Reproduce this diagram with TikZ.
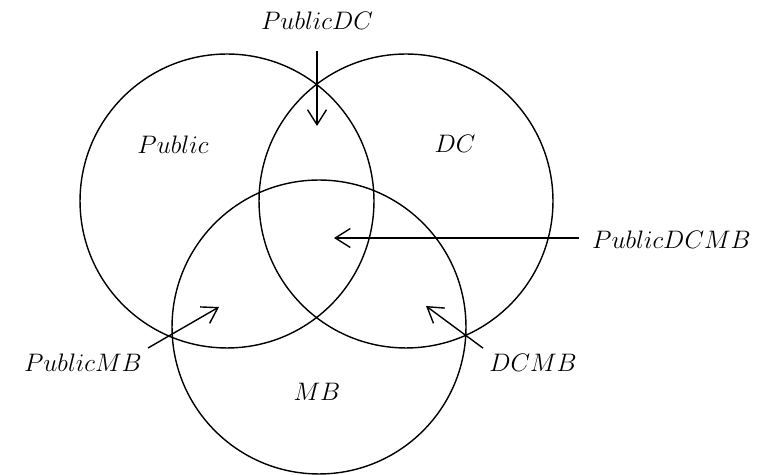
\documentclass[tikz,border=0pt]{standalone}
\usepackage{tikz}
\usetikzlibrary{arrows.meta, positioning, calc}
\usepackage{amsmath, amssymb}
\usepackage{xcolor}

\begin{document}
\begin{tikzpicture}[
  x=0.02cm, y=-0.02cm,
  venn/.style={circle, draw=black, line width=0.8pt, minimum size=5.88cm, inner sep=0pt},
  setlabel/.style={font=\fontsize{15}{18}\selectfont, inner sep=3.33pt},
  arrow/.style={-{Straight Barb[length=3mm, width=3.8mm]}, line width=0.8pt}
]
\useasboundingbox (0,0) rectangle (757,475);

% 三个集合
\node (cPublic) [venn] at (227,201) {};
\node (cDC) [venn] at (406,201) {};
\node (cMB) [venn] at (319,327) {};

% 集合名称
\node (nPublic) [setlabel] at (173,145) {$Public$};
\node (nDC) [setlabel] at (455,144) {$DC$};
\node (nMB) [setlabel] at (317,392) {$MB$};

% 交集名称
\node (lblPublicDC) [setlabel] at (317,21) {$PublicDC$};
\node (lblPublicDCMB) [setlabel, anchor=west] at (586,240) {$PublicDCMB$};
\node (lblPublicMB) [setlabel, anchor=east] at (148,363) {$PublicMB$};
\node (lblDCMB) [setlabel] at (533,363) {$DCMB$};

% 箭头终点
\coordinate (pPublicDC) at (317,126);
\coordinate (pPublicDCMB) at (334,238);
\coordinate (pPublicMB) at (219,307);
\coordinate (pDCMB) at (426,306);

% 箭头
\draw [arrow, shorten <=0.3cm] (lblPublicDC.south -| pPublicDC) -- (pPublicDC);
\draw [arrow] (lblPublicDCMB.west |- pPublicDCMB) ++(-0.15cm,0) -- (pPublicDCMB);
\draw [arrow] (lblPublicMB.north east) -- (pPublicMB);
\draw [arrow] (lblDCMB.north west) -- (pDCMB);

\end{tikzpicture}
\end{document}
